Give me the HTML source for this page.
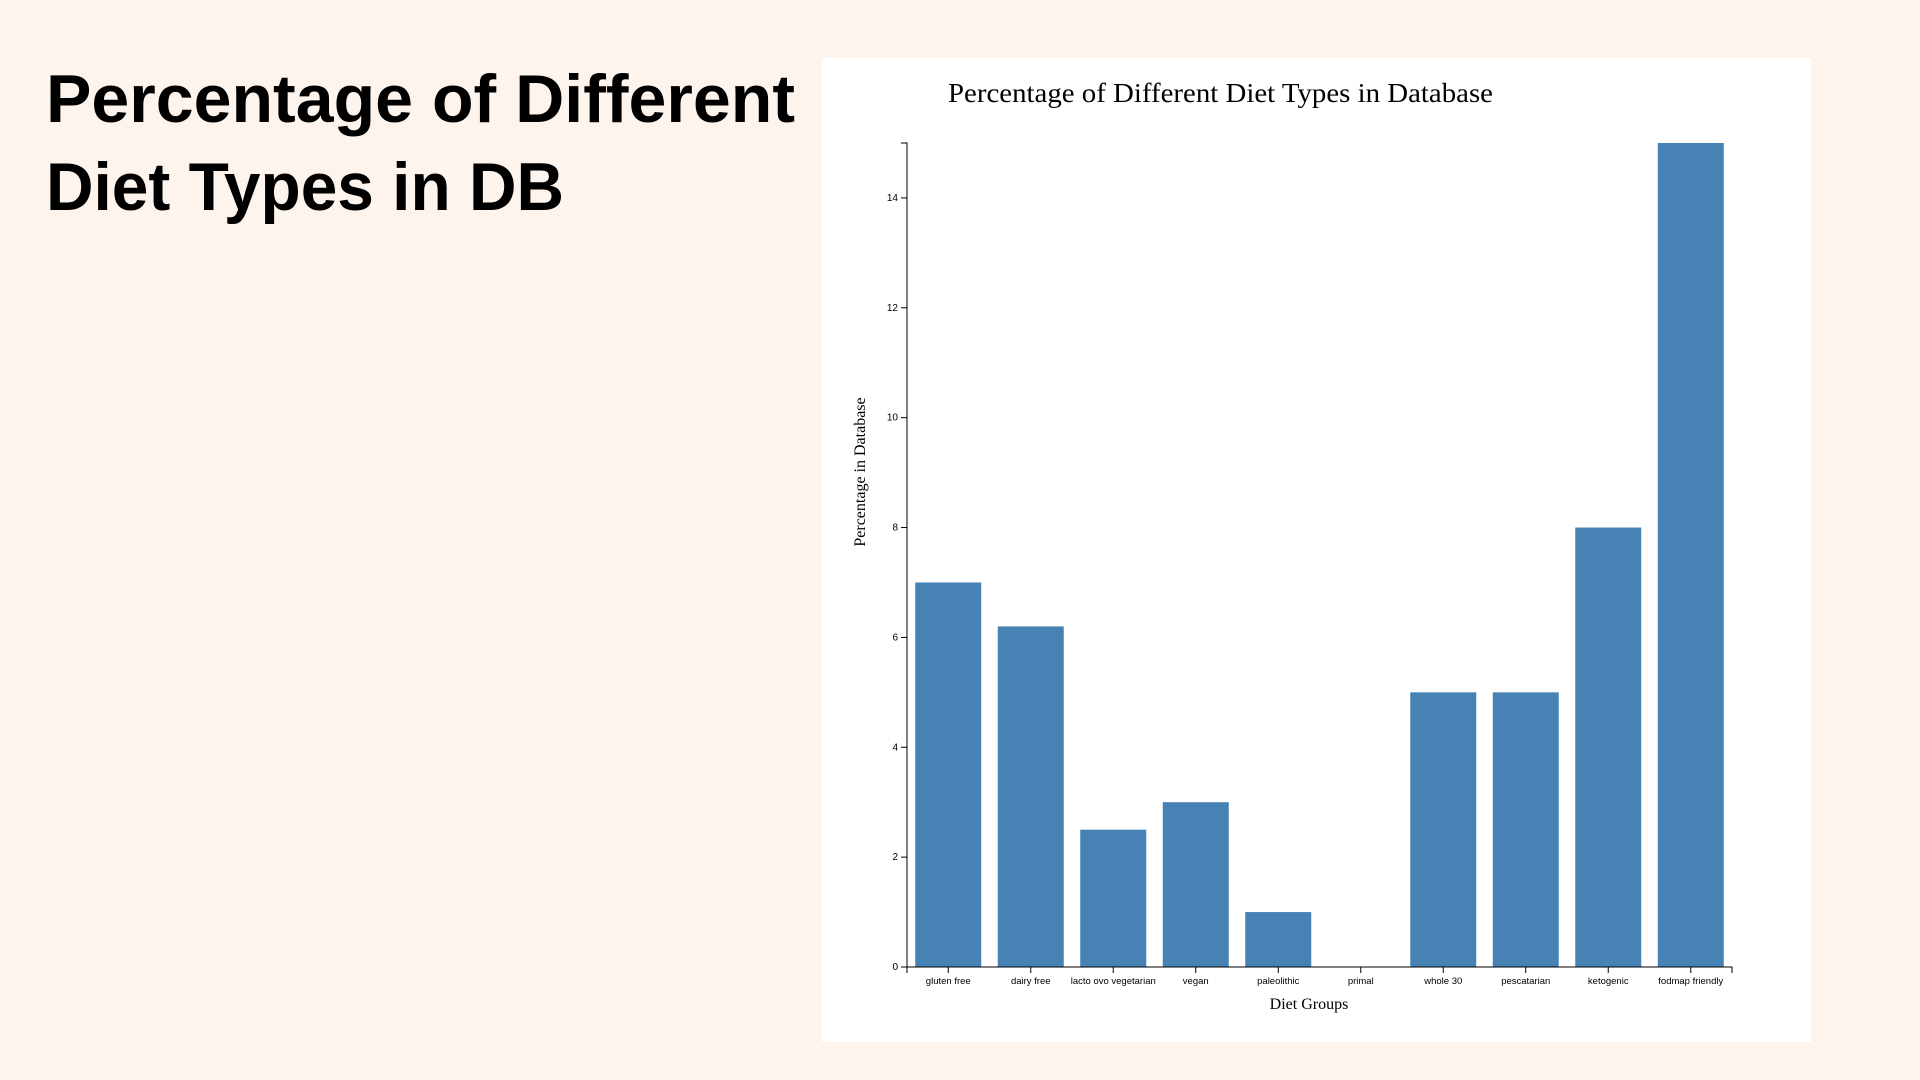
<!DOCTYPE html>
<html><head><meta charset="utf-8"><style>
html,body{margin:0;padding:0;width:1920px;height:1080px;background:#fdf5ed;overflow:hidden;font-family:"Liberation Sans",sans-serif}
svg{position:absolute;left:0;top:0}
</style></head><body>
<svg width="1920" height="1080">
<text x="46" y="122" font-family="Liberation Sans, sans-serif" font-weight="bold" font-size="68" textLength="749" lengthAdjust="spacingAndGlyphs" fill="#000">Percentage of Different</text>
<text x="46" y="210" font-family="Liberation Sans, sans-serif" font-weight="bold" font-size="68" textLength="518" lengthAdjust="spacingAndGlyphs" fill="#000">Diet Types in DB</text>
<rect x="822" y="58" width="989" height="984" fill="#fff"/>
<text x="948" y="102" font-family="Liberation Serif, serif" font-size="27" textLength="545" lengthAdjust="spacingAndGlyphs" fill="#000">Percentage of Different Diet Types in Database</text>
<text transform="translate(865,472) rotate(-90)" text-anchor="middle" font-family="Liberation Serif, serif" font-size="16" fill="#000">Percentage in Database</text>
<text x="1309" y="1009" text-anchor="middle" font-family="Liberation Serif, serif" font-size="16" fill="#000">Diet Groups</text>
<g id="plot"></g>
</svg>
<script>
const categories=["gluten free","dairy free","lacto ovo vegetarian","vegan","paleolithic","primal","whole 30","pescatarian","ketogenic","fodmap friendly"];
const values=[7,6.2,2.5,3,1,0,5,5,8,15];
const yTicks=[0,2,4,6,8,10,12,14];
const yMax=15;
const NS="http://www.w3.org/2000/svg";
const g=document.getElementById('plot');
const x0=907,x1=1732,y0=967,yTop=143;
const band=(x1-x0)/categories.length,pad=0.2;
const xPos=i=>x0+band*i+band*pad/2;
const bw=band*(1-pad);
const yS=v=>y0-(y0-yTop)*v/yMax;
function mk(t,a){const e=document.createElementNS(NS,t);for(const k in a)e.setAttribute(k,a[k]);g.appendChild(e);return e;}
values.forEach((v,i)=>{
 const r=mk('rect',{x:xPos(i),y:yS(v),width:bw,height:y0-yS(v),fill:'#4682b4'});
 
 
});
const ya=mk('path',{d:`M${x0-6},${yTop}H${x0}V${y0}H${x0-6}`,stroke:'#000',fill:'none','stroke-width':1});


yTicks.forEach(t=>{
 mk('line',{x1:x0-6,x2:x0,y1:yS(t),y2:yS(t),stroke:'#000'});
 const tx=mk('text',{x:x0-9,y:yS(t)+3,'text-anchor':'end','font-size':10,'font-family':'Liberation Sans, sans-serif'});
 tx.textContent=t;
 
 
});
const xa=mk('path',{d:`M${x0},${y0+6}V${y0}H${x1}V${y0+6}`,stroke:'#000',fill:'none'});


categories.forEach((c,i)=>{
 const cx=x0+band*(i+0.5);
 mk('line',{x1:cx,x2:cx,y1:y0,y2:y0+6,stroke:'#000'});
 const tx=mk('text',{x:cx,y:y0+17,'text-anchor':'middle','font-size':9.5,'font-family':'Liberation Sans, sans-serif'});
 tx.textContent=c;
 
 
});
</script>
</body></html>
